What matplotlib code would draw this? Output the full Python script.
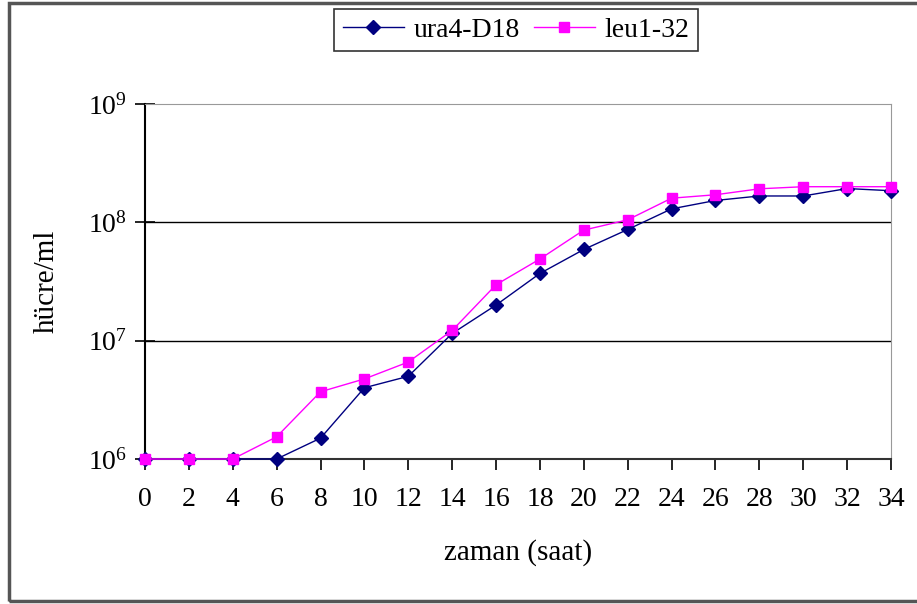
import matplotlib
matplotlib.use("Agg")
import matplotlib.pyplot as plt
from matplotlib.patches import Rectangle

plt.rcParams['font.family'] = ['Liberation Serif', 'DejaVu Serif']
plt.rcParams['mathtext.fontset'] = 'custom'
plt.rcParams['mathtext.rm'] = 'Liberation Serif'
plt.rcParams['mathtext.it'] = 'Liberation Serif'

# time in hours
zaman = [0, 2, 4, 6, 8, 10, 12, 14, 16, 18, 20, 22, 24, 26, 28, 30, 32, 34]

# cells/ml
ura4_D18 = [1.0e6, 1.0e6, 1.0e6, 1.0e6, 1.5e6, 4.0e6, 5.0e6, 1.15e7, 2.0e7, 3.7e7,
            5.9e7, 8.7e7, 1.3e8, 1.53e8, 1.67e8, 1.67e8, 1.93e8, 1.85e8]
leu1_32 = [1.0e6, 1.0e6, 1.0e6, 1.54e6, 3.7e6, 4.75e6, 6.6e6, 1.22e7, 2.97e7, 4.9e7,
           8.6e7, 1.05e8, 1.6e8, 1.71e8, 1.92e8, 2.0e8, 2.0e8, 2.0e8]

y_ticks = [1e6, 1e7, 1e8, 1e9]
y_labels = ['$10^{6}$', '$10^{7}$', '$10^{8}$', '$10^{9}$']

fig = plt.figure(figsize=(9.17, 6.04), dpi=100)
ax = fig.add_axes([145 / 917, 1 - 459 / 604, (891 - 145) / 917, (459 - 104) / 604])

# outer chart frame
fig.patches.append(Rectangle((9 / 917, 3 / 604), 1.0, 598 / 604, transform=fig.transFigure,
                             fill=False, edgecolor='#555555', linewidth=2.5, zorder=0))

for y in [1e7, 1e8]:
    ax.axhline(y, color='black', linewidth=1.0, zorder=1)

ax.plot(zaman, ura4_D18, color='#000080', marker='D', markersize=7, linewidth=1.0,
        label='ura4-D18', zorder=3, clip_on=False)
ax.plot(zaman, leu1_32, color='#FF00FF', marker='s', markersize=7, linewidth=1.0,
        label='leu1-32', zorder=3, clip_on=False)

ax.set_yscale('log')
ax.set_ylim(1e6, 1e9)
ax.set_xlim(0, 34)
ax.set_xticks(zaman)
ax.set_yticks(y_ticks)
ax.set_yticklabels(y_labels)
ax.minorticks_off()

ax.spines['top'].set_color('#999999')
ax.spines['right'].set_color('#999999')
ax.spines['left'].set_linewidth(1.5)
ax.spines['bottom'].set_linewidth(1.5)
ax.spines['bottom'].set_color('#333333')

ax.tick_params(axis='x', direction='out', length=8, width=1.2, labelsize=20, pad=12)
ax.tick_params(axis='y', direction='inout', length=14, width=1.2, labelsize=20, pad=6)

ax.set_xlabel('zaman (saat)', fontsize=21, labelpad=20)
ax.set_ylabel('hücre/ml', fontsize=21, labelpad=20)

leg = fig.legend(loc='center', bbox_to_anchor=(516 / 917, 1 - 30 / 604), ncol=2,
                 fontsize=20, frameon=True, fancybox=False, edgecolor='black',
                 handlelength=2.2, columnspacing=0.5, handletextpad=0.35,
                 borderpad=0.3)
leg.get_frame().set_linewidth(1.2)

fig.savefig('out.png', dpi=100)
